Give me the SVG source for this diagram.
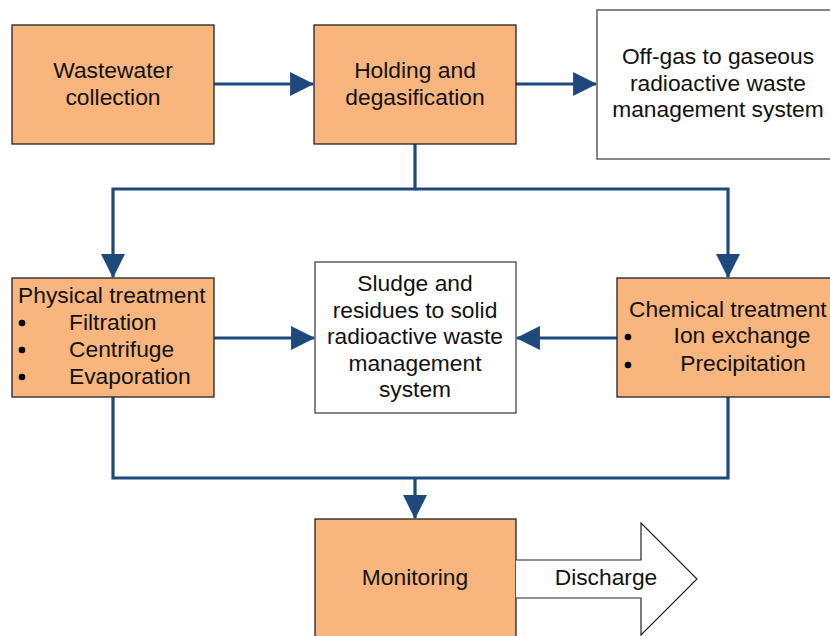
<svg xmlns="http://www.w3.org/2000/svg" width="830" height="636" viewBox="0 0 830 636">
<style>
.box{fill:#F8B57D;stroke:#222;stroke-width:1.3}
.wbox{fill:#fff;stroke:#444;stroke-width:1.3}
text{font-family:"Liberation Sans",Arial,sans-serif;font-size:22.8px;fill:#111}
.c{text-anchor:middle}
.conn{fill:none;stroke:#1F497D;stroke-width:3.2}
.ah{fill:#1F497D}
</style>
<defs>
<marker id="arr" markerUnits="userSpaceOnUse" markerWidth="24" markerHeight="24" viewBox="0 0 22 22" refX="21" refY="11" orient="auto">
<path class="ah" d="M0,0 L22,11 L0,22 Z"/>
</marker>
</defs>
<rect width="830" height="636" fill="#fff"/>
<g id="connectors">
<path class="conn" d="M214,84 H313" marker-end="url(#arr)"/>
<path class="conn" d="M516,84 H596" marker-end="url(#arr)"/>
<path class="conn" d="M415,144 V189 H113 V277" marker-end="url(#arr)"/>
<path class="conn" d="M415,189 H728 V277" marker-end="url(#arr)"/>
<path class="conn" d="M214,338 H314" marker-end="url(#arr)"/>
<path class="conn" d="M617,338 H517" marker-end="url(#arr)"/>
<path class="conn" d="M113,397 V478 H728 V397"/>
<path class="conn" d="M415,478 V518" marker-end="url(#arr)"/>
</g>
<g id="wastewater">
<rect class="box" x="12" y="25" width="202" height="119"/>
<text class="c" x="113" y="78">Wastewater</text>
<text class="c" x="113" y="105">collection</text>
</g>
<g id="holding">
<rect class="box" x="314" y="25" width="202" height="119"/>
<text class="c" x="415" y="78">Holding and</text>
<text class="c" x="415" y="105">degasification</text>
</g>
<g id="offgas">
<rect class="wbox" x="597" y="10" width="240" height="149"/>
<text class="c" x="718" y="64">Off-gas to gaseous</text>
<text class="c" x="718" y="91">radioactive waste</text>
<text class="c" x="718" y="117">management system</text>
</g>
<g id="physical">
<rect class="box" x="12" y="278" width="202" height="119"/>
<text x="18" y="303">Physical treatment</text>
<circle cx="22" cy="323" r="3.3"/>
<circle cx="22" cy="350" r="3.3"/>
<circle cx="22" cy="377" r="3.3"/>
<text x="69" y="330">Filtration</text>
<text x="69" y="357">Centrifuge</text>
<text x="69" y="384">Evaporation</text>
</g>
<g id="sludge">
<rect class="wbox" x="315" y="262" width="201" height="151"/>
<text class="c" x="415" y="291">Sludge and</text>
<text class="c" x="415" y="318">residues to solid</text>
<text class="c" x="415" y="344">radioactive waste</text>
<text class="c" x="415" y="371">management</text>
<text class="c" x="415" y="397">system</text>
</g>
<g id="chemical">
<rect class="box" x="617" y="278" width="220" height="119"/>
<text x="629" y="317">Chemical treatment</text>
<circle cx="628" cy="337" r="3.3"/>
<circle cx="628" cy="365" r="3.3"/>
<text class="c" x="742" y="343">Ion exchange</text>
<text class="c" x="743" y="371">Precipitation</text>
</g>
<g id="monitoring">
<rect class="box" x="315" y="519" width="201" height="125"/>
<text class="c" x="415" y="585">Monitoring</text>
</g>
<g id="discharge">
<path d="M516,560 H641 V523 L697,579 L641,635 V598 H516" fill="#fff" stroke="#222" stroke-width="1.2"/>
<text class="c" x="606" y="585">Discharge</text>
</g>
</svg>
